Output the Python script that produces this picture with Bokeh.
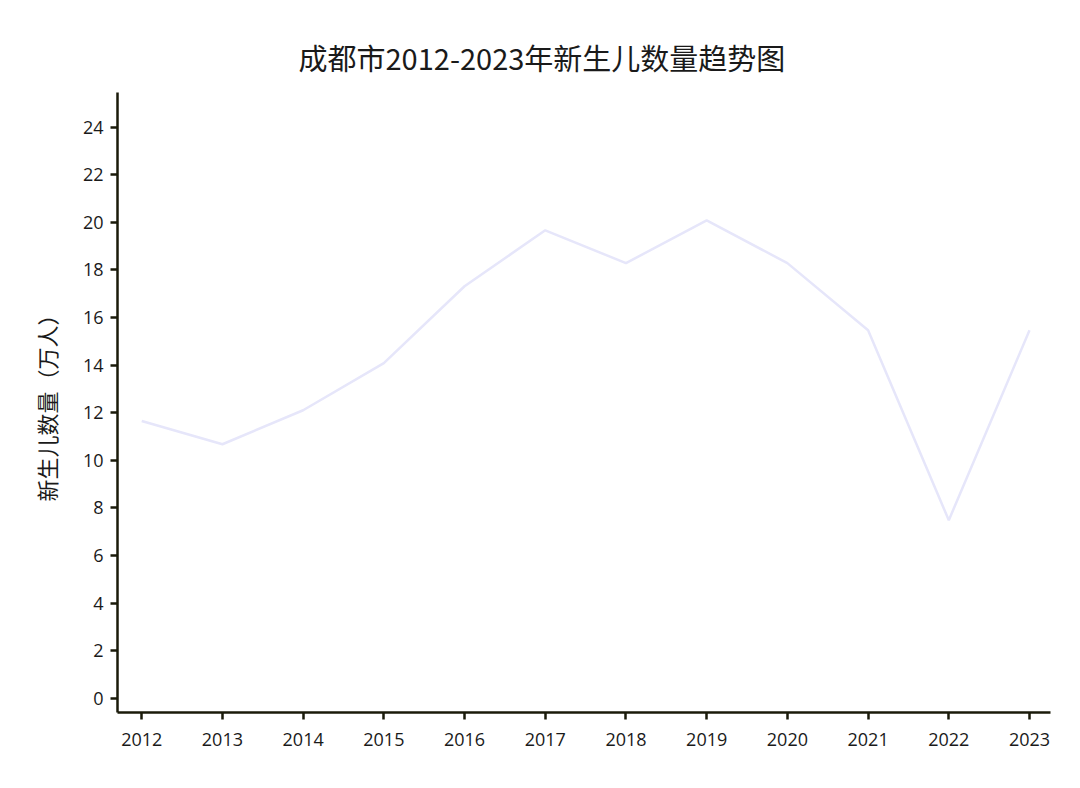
from bokeh.plotting import figure
from bokeh.models import FixedTicker, Range1d
from bokeh.embed import file_html
from bokeh.resources import INLINE

years = [2012, 2013, 2014, 2015, 2016, 2017, 2018, 2019, 2020, 2021, 2022, 2023]
births = [11.65, 10.67, 12.1, 14.08, 17.31, 19.66, 18.28, 20.08, 18.28, 15.46, 7.48, 15.46]
y_ticks = [0, 2, 4, 6, 8, 10, 12, 14, 16, 18, 20, 22, 24]

p = figure(width=1080, height=788, output_backend="svg", toolbar_location=None,
           x_range=Range1d(2011.7, 2023.26), y_range=Range1d(-0.6, 25.45),
           min_border_left=117, min_border_right=30, min_border_top=92, min_border_bottom=76,
           title="成都市2012-2023年新生儿数量趋势图")
p.title.align = "left"
p.title.offset = 181
p.title.text_font = "Noto Sans CJK SC"
p.title.text_font_size = "29px"
p.title.text_font_style = "normal"
p.title.text_color = "#1a1a1a"
p.title.standoff = 29

p.line(years, births, line_color="#E6E6FA", line_width=2.5)

p.outline_line_color = None
p.grid.visible = False
axis_col = "#1a1a0a"
for ax in (p.xaxis[0], p.yaxis[0]):
    ax.axis_line_color = axis_col
    ax.axis_line_width = 2.5
    ax.major_tick_line_color = axis_col
    ax.major_tick_line_width = 2.5
    ax.major_tick_in = 0
    ax.major_tick_out = 7
    ax.minor_tick_line_color = None
    ax.major_label_text_font = "Open Sans"
    ax.major_label_text_font_size = "18px"
    ax.major_label_text_color = "#1a1a1a"

p.xaxis[0].major_label_standoff = 13
p.yaxis[0].major_label_standoff = 7
p.xaxis[0].ticker = FixedTicker(ticks=years)
p.yaxis[0].ticker = FixedTicker(ticks=y_ticks)
p.yaxis[0].axis_label = "新生儿数量（万人）"
p.yaxis[0].axis_label_text_font = "Noto Sans CJK SC"
p.yaxis[0].axis_label_text_font_size = "22px"
p.yaxis[0].axis_label_text_font_style = "normal"
p.yaxis[0].axis_label_text_color = "#1a1a1a"
p.yaxis[0].axis_label_standoff = 18

open("out.html", "w").write(file_html(p, INLINE))
